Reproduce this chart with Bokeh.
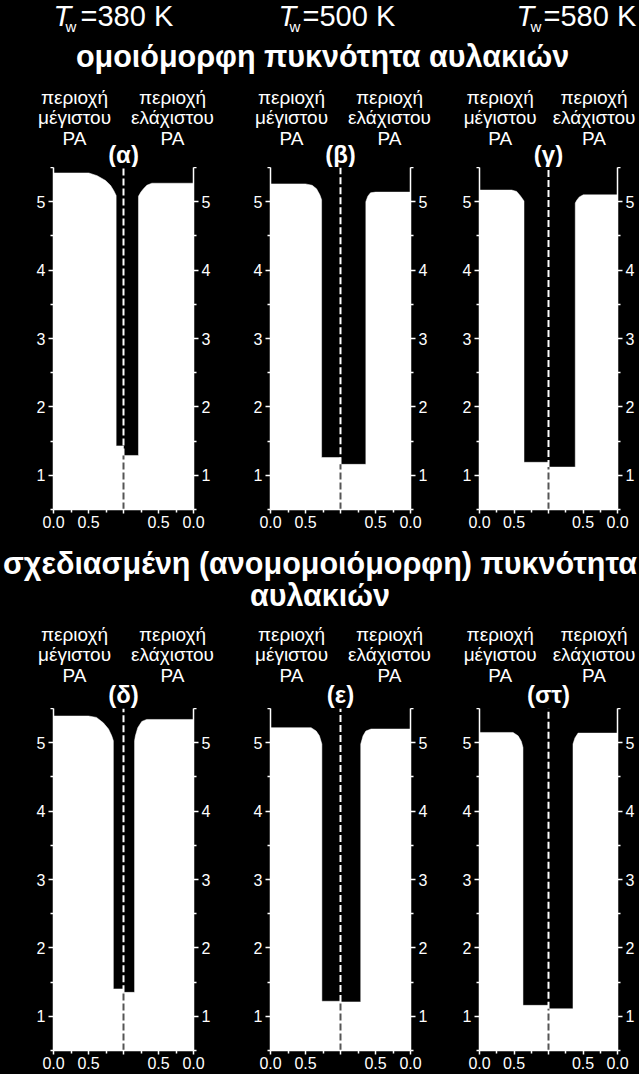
from bokeh.plotting import figure
from bokeh.models import Range1d, LinearAxis, FixedTicker, Label
from bokeh.layouts import column, row
from bokeh.embed import file_html
from bokeh.resources import INLINE

FONT = "Liberation Sans"

# ---------------- data ----------------
temps = ["=380 K", "=500 K", "=580 K"]
panel_tags = ["(α)", "(β)", "(γ)", "(δ)", "(ε)", "(στ)"]
row_title_1 = "ομοιόμορφη πυκνότητα αυλακιών"
row_title_2a = "σχεδιασμένη (ανομομοιόμορφη) πυκνότητα"
row_title_2b = "αυλακιών"
left_region = ["περιοχή", "μέγιστου", "PA"]
right_region = ["περιοχή", "ελάχιστου", "PA"]

y_major = [1, 2, 3, 4, 5]
y_minor = [0.5, 1.5, 2.5, 3.5, 4.5, 5.5]
x_major = [0, 0.5, 1, 1.5, 2]
x_minor = [0.25, 0.75, 1.25, 1.75]
x_labels = ["0.0", "0.5", "", "0.5", "0.0"]

# film profiles: left half (x from 0 at left axis to 1 at centre) and
# right half (x from 0 at right axis to 1 at centre), heights h
a_lx = [0, 0.505, 0.624, 0.743, 0.814, 0.862, 0.895, 0.895, 1]
a_lh = [5.42, 5.42, 5.38, 5.31, 5.24, 5.16, 5.09, 1.43, 1.43]
a_rx = [0, 0.595, 0.667, 0.714, 0.752, 0.786, 0.786, 1]
a_rh = [5.27, 5.27, 5.24, 5.19, 5.14, 5.08, 1.29, 1.29]

b_lx = [0, 0.50, 0.595, 0.657, 0.705, 0.73, 0.73, 1]
b_lh = [5.26, 5.26, 5.24, 5.19, 5.10, 5.03, 1.26, 1.26]
b_rx = [0, 0.50, 0.571, 0.61, 0.638, 0.638, 1]
b_rh = [5.14, 5.14, 5.13, 5.08, 5.0, 1.16, 1.16]

c_lx = [0, 0.467, 0.539, 0.597, 0.645, 0.645, 1]
c_lh = [5.17, 5.17, 5.15, 5.08, 5.01, 1.19, 1.19]
c_rx = [0, 0.496, 0.553, 0.591, 0.612, 0.612, 1]
c_rh = [5.10, 5.10, 5.07, 5.02, 4.98, 1.12, 1.12]

d_lx = [0, 0.50, 0.614, 0.712, 0.786, 0.832, 0.855, 0.855, 1]
d_lh = [5.39, 5.39, 5.37, 5.29, 5.20, 5.10, 5.03, 1.40, 1.40]
d_rx = [0, 0.67, 0.739, 0.796, 0.83, 0.842, 0.842, 1]
d_rh = [5.34, 5.34, 5.31, 5.22, 5.10, 5.03, 1.35, 1.35]

e_lx = [0, 0.58, 0.653, 0.699, 0.734, 0.734, 1]
e_lh = [5.22, 5.22, 5.17, 5.10, 4.98, 1.22, 1.22]
e_rx = [0, 0.564, 0.638, 0.678, 0.711, 0.711, 1]
e_rh = [5.20, 5.20, 5.17, 5.10, 4.98, 1.21, 1.21]

f_lx = [0, 0.486, 0.56, 0.606, 0.63, 0.63, 1]
f_lh = [5.15, 5.15, 5.10, 5.02, 4.93, 1.16, 1.16]
f_rx = [0, 0.572, 0.617, 0.645, 0.645, 1]
f_rh = [5.14, 5.14, 5.07, 4.98, 1.11, 1.11]

profiles = [(a_lx, a_lh, a_rx, a_rh), (b_lx, b_lh, b_rx, b_rh), (c_lx, c_lh, c_rx, c_rh),
            (d_lx, d_lh, d_rx, d_rh), (e_lx, e_lh, e_rx, e_rh), (f_lx, f_lh, f_rx, f_rh)]

Y0, Y1 = 0.5, 5.5
X0, X1 = 0, 2

# ---------------- layout constants ----------------
PAGE_W = 639
COL_W = [231, 209, 199]
COL_BL = [53, 39, 39]
COL_BR = [38, 30, 22]
FRAME_W = [w - l - r for w, l, r in zip(COL_W, COL_BL, COL_BR)]
COL_X0 = [sum(COL_W[:i]) for i in range(3)]
RIGHT_FRAC = [0.85, 0.85, 0.83]
HEAD_H = [167, 161]
HEAD_TOP = [0, 547]
ROW_BT = [0, 0]
ROW_BB = [38, 24]
FRAME_H = 342
# vertical centres (page px) of region label lines and of the tag
ROW_LABEL_Y = [[97, 116.5, 137.5], [634, 653.5, 675]]
ROW_TAG_Y = [154, 694]


def style_axis(ax, tick_out, minor_out, standoff):
    ax.axis_line_color = "white"
    ax.axis_line_width = 1.5
    ax.major_tick_line_color = "white"
    ax.minor_tick_line_color = "white"
    ax.major_tick_line_width = 1.5
    ax.minor_tick_line_width = 1.5
    ax.major_tick_in = 0
    ax.major_tick_out = tick_out
    ax.minor_tick_in = 0
    ax.minor_tick_out = minor_out
    ax.major_label_text_color = "white"
    ax.major_label_text_font = FONT
    ax.major_label_text_font_size = "16px"
    ax.major_label_standoff = standoff


def make_panel(k):
    r, c = divmod(k, 3)
    lx, lh, rx, rh = profiles[k]
    p = figure(width=COL_W[c], height=ROW_BT[r] + FRAME_H + ROW_BB[r], title=None,
               x_range=Range1d(X0, X1), y_range=Range1d(Y0, Y1),
               output_backend="svg", toolbar_location=None,
               min_border_left=COL_BL[c], min_border_right=COL_BR[c],
               min_border_top=ROW_BT[r], min_border_bottom=ROW_BB[r],
               background_fill_color="black", border_fill_color="black",
               outline_line_color=None)
    p.grid.visible = False

    xs = [X0] + list(lx) + [X1 - v for v in reversed(rx)] + [X1]
    ys = [Y0] + list(lh) + list(reversed(rh)) + [Y0]
    p.patch(xs, ys, fill_color="white", line_color="white", line_width=0.5)

    xc = (X0 + X1) / 2
    bottom = min(lh[-1], rh[-1])
    p.segment(x0=[xc], y0=[bottom], x1=[xc], y1=[Y1], line_color="white",
              line_width=2, line_dash="7 3")
    p.segment(x0=[xc], y0=[Y0], x1=[xc], y1=[bottom], line_color="#555555",
              line_width=2, line_dash="7 3")

    p.xaxis.ticker = FixedTicker(ticks=x_major, minor_ticks=x_minor)
    p.xaxis.major_label_overrides = {t: s for t, s in zip(x_major, x_labels)}
    style_axis(p.xaxis[0], 4, 3, 2)
    p.yaxis.ticker = FixedTicker(ticks=y_major, minor_ticks=y_minor)
    style_axis(p.yaxis[0], 5, 3, 3)
    ra = LinearAxis(ticker=FixedTicker(ticks=y_major, minor_ticks=y_minor))
    style_axis(ra, 5, 3, 3)
    p.add_layout(ra, "right")
    return p


def make_header(h):
    f = figure(width=PAGE_W, height=h, title=None, x_range=Range1d(0, PAGE_W), y_range=Range1d(h, 0),
               output_backend="svg", toolbar_location=None, x_axis_type=None, y_axis_type=None,
               min_border=0, background_fill_color="black", border_fill_color="black",
               outline_line_color=None)
    f.grid.visible = False
    return f


def lab(f, x, y, t, size, style="normal", align="left"):
    f.add_layout(Label(x=x, y=y, text=t, text_align=align, text_baseline="middle",
                       text_color="white", text_font=FONT, text_font_size=size,
                       text_font_style=style))


def add_panel_heads(f, r):
    top = HEAD_TOP[r]
    for c in range(3):
        fx0 = COL_X0[c] + COL_BL[c]
        fw = FRAME_W[c]
        for txts, frac in ((left_region, 0.15), (right_region, RIGHT_FRAC[c])):
            for t, yc in zip(txts, ROW_LABEL_Y[r]):
                lab(f, fx0 + frac * fw, yc - top, t, "19px", align="center")
        lab(f, fx0 + 0.5 * fw, ROW_TAG_Y[r] - top, panel_tags[3 * r + c], "24px", "bold", "center")


ha = make_header(HEAD_H[0])
for tx, wx, ex, t in zip([53, 278, 516], [65, 289, 530], [80, 302, 543], temps):
    lab(ha, tx, 15.5, "T", "29px", "italic")
    lab(ha, wx, 25.5, "w", "15px")
    lab(ha, ex, 15.5, t, "29px")
lab(ha, 322, 55.5, row_title_1, "30.5px", "bold", "center")
add_panel_heads(ha, 0)

hb = make_header(HEAD_H[1])
lab(hb, 319.5, 562.5 - HEAD_TOP[1], row_title_2a, "30.5px", "bold", "center")
lab(hb, 319.5, 594.5 - HEAD_TOP[1], row_title_2b, "30.5px", "bold", "center")
add_panel_heads(hb, 1)

panels = [make_panel(k) for k in range(6)]
layout = column(ha, row(*panels[:3]), hb, row(*panels[3:]))

page_style = "{% block postamble %}<style>html, body { background-color: #000000; }</style>{% endblock %}"
open("out.html", "w").write(file_html(layout, INLINE, template=page_style))
